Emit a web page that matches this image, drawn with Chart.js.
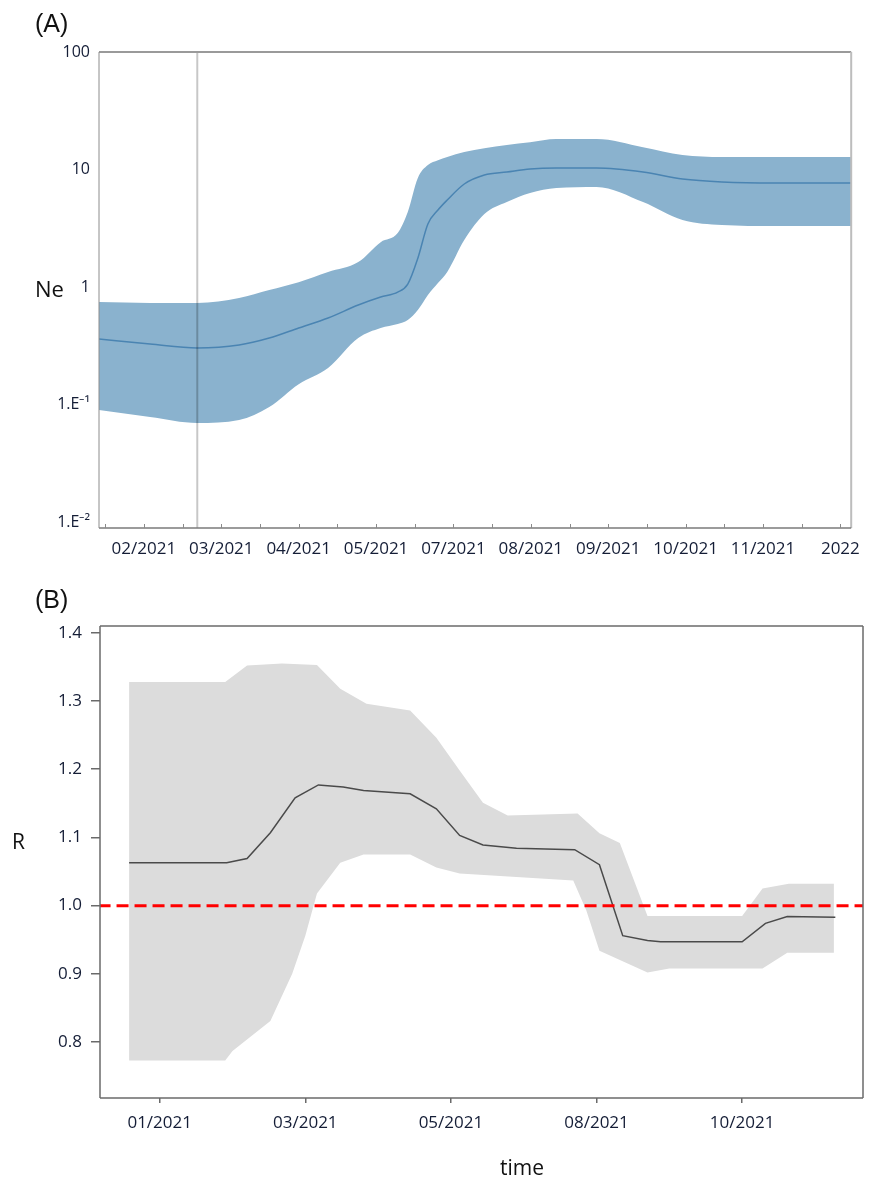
<!DOCTYPE html>
<html>
<head>
<meta charset="utf-8">
<script src="https://cdn.jsdelivr.net/npm/chart.js@4.4.1/dist/chart.umd.min.js"></script>
<style>
body { margin: 0; background: #fff; width: 871px; height: 1182px; position: relative; overflow: hidden; font-family: "Open Sans", sans-serif; }
canvas { position: absolute; left: 0; }
#chartA { top: 0; }
#chartB { top: 580px; }
.lbl { position: absolute; white-space: nowrap; line-height: 1; color: #111; }
.panel { font-family: "Liberation Sans", Arial, sans-serif; font-size: 25px; }
</style>
</head>
<body>
<canvas id="chartA" width="871" height="580"></canvas>
<canvas id="chartB" width="871" height="602"></canvas>

<div class="lbl panel" style="left:35px;top:11px;">(A)</div>
<div class="lbl" style="left:35px;top:277px;font-size:22px;">Ne</div>
<div class="lbl panel" style="left:35px;top:587px;">(B)</div>
<div class="lbl" style="left:12px;top:831px;font-size:21px;">R</div>
<div class="lbl" style="left:522px;top:1157px;font-size:21px;transform:translateX(-50%);">time</div>

<script>
// ---- panel A : Ne through time (log scale) ----
const neTickLabels = ['02/2021', '03/2021', '04/2021', '05/2021', '07/2021', '08/2021', '09/2021', '10/2021', '11/2021', '2022'];
const neTime   = [-0.58, 0.08, 0.69, 1.23, 1.62, 2.0, 2.38, 2.77, 3.06, 3.28, 3.41, 3.54, 3.67, 3.8, 3.92, 4.14, 4.4, 4.69, 4.99, 5.33, 5.85, 6.45, 6.96, 7.47, 8.15, 9.14];
const neMedian = [0.361, 0.327, 0.303, 0.321, 0.368, 0.448, 0.545, 0.703, 0.822, 0.906, 1.06, 1.76, 3.44, 4.52, 5.5, 7.53, 8.98, 9.52, 10.1, 10.3, 10.3, 9.52, 8.3, 7.83, 7.67, 7.67];
const neUpper  = [0.745, 0.731, 0.731, 0.806, 0.943, 1.1, 1.34, 1.63, 2.41, 2.88, 4.35, 8.47, 10.9, 12.0, 12.8, 14.1, 15.2, 16.2, 17.1, 18.2, 18.2, 15.5, 13.3, 12.8, 12.8, 12.8];
const neLower  = [0.0898, 0.0783, 0.0696, 0.0738, 0.0953, 0.149, 0.205, 0.368, 0.448, 0.484, 0.524, 0.637, 0.855, 1.08, 1.34, 2.51, 4.18, 5.29, 6.31, 6.96, 7.1, 5.29, 3.72, 3.37, 3.3, 3.3];
const neMarkerTime = 0.69;
const neYTicks  = [0.01, 0.1, 1, 10, 100];
const neYLabels = ['1.E⁻²', '1.E⁻¹', '1', '10', '100'];

// ---- panel B : R through time ----
const rTickLabels = ['01/2021', '03/2021', '05/2021', '08/2021', '10/2021'];
const rMedianTime = [-0.21, 0.46, 0.6, 0.76, 0.93, 1.09, 1.26, 1.4, 1.72, 1.9, 2.06, 2.22, 2.45, 2.85, 3.02, 3.18, 3.35, 3.44, 4.0, 4.16, 4.31, 4.64];
const rMedian     = [1.063, 1.063, 1.069, 1.107, 1.158, 1.177, 1.174, 1.169, 1.164, 1.142, 1.103, 1.089, 1.084, 1.082, 1.06, 0.956, 0.949, 0.947, 0.947, 0.974, 0.984, 0.983];
const rUpperTime  = [-0.21, 0.45, 0.6, 0.84, 1.08, 1.24, 1.42, 1.72, 1.9, 2.06, 2.22, 2.39, 2.87, 3.02, 3.16, 3.35, 4.0, 4.14, 4.32, 4.63];
const rUpper      = [1.328, 1.328, 1.352, 1.355, 1.353, 1.318, 1.296, 1.286, 1.246, 1.198, 1.151, 1.132, 1.135, 1.106, 1.092, 0.985, 0.985, 1.025, 1.032, 1.032];
const rLowerTime  = [-0.21, 0.45, 0.5, 0.76, 0.91, 1.0, 1.08, 1.24, 1.4, 1.72, 1.9, 2.06, 2.84, 2.93, 3.02, 3.35, 3.5, 4.14, 4.31, 4.63];
const rLower      = [0.773, 0.773, 0.787, 0.831, 0.9, 0.956, 1.018, 1.063, 1.075, 1.075, 1.056, 1.047, 1.037, 0.993, 0.934, 0.902, 0.908, 0.908, 0.931, 0.931];
const rThreshold = 1.0;
const rYTicks = [0.8, 0.9, 1.0, 1.1, 1.2, 1.3, 1.4];

const tickColor = '#141d36';

function pts(xs, ys) {
  return xs.map((x, i) => ({ x: x, y: ys[i] }));
}

// box round the plot area, one colour per side, plus optional small inside ticks on x
const framePlugin = {
  id: 'frame',
  afterDatasetsDraw(chart, args, opts) {
    const a = chart.chartArea;
    const c = chart.ctx;
    const sides = [
      [a.left, a.top, a.right, a.top, opts.top],
      [a.right, a.top, a.right, a.bottom, opts.right],
      [a.left, a.bottom, a.right, a.bottom, opts.bottom],
      [a.left, a.top, a.left, a.bottom, opts.left]
    ];
    c.save();
    sides.forEach(s => {
      c.strokeStyle = s[4][0];
      c.lineWidth = s[4][1];
      c.beginPath();
      c.moveTo(s[0], s[1]);
      c.lineTo(s[2], s[3]);
      c.stroke();
    });
    if (opts.minorStep) {
      const xs = chart.scales.x;
      c.strokeStyle = '#8a8a8a';
      c.lineWidth = 1;
      c.beginPath();
      for (let v = Math.ceil(xs.min / opts.minorStep) * opts.minorStep; v <= xs.max; v += opts.minorStep) {
        const px = Math.round(xs.getPixelForValue(v)) + 0.5;
        c.moveTo(px, a.bottom);
        c.lineTo(px, a.bottom - 4);
      }
      c.stroke();
    }
    c.restore();
  }
};

// panel A
new Chart(document.getElementById('chartA'), {
  type: 'line',
  data: {
    datasets: [
      { data: pts(neTime, neLower), borderWidth: 0, pointRadius: 0, fill: false, cubicInterpolationMode: 'monotone', order: 4 },
      { data: pts(neTime, neUpper), borderWidth: 0, pointRadius: 0, fill: 0, backgroundColor: '#8ab2ce', cubicInterpolationMode: 'monotone', order: 3 },
      { data: pts(neTime, neMedian), borderColor: '#4a84b2', borderWidth: 1.5, pointRadius: 0, fill: false, cubicInterpolationMode: 'monotone', order: 2 },
      { data: [{ x: neMarkerTime, y: 0.0089 }, { x: neMarkerTime, y: 100 }], borderColor: 'rgba(0,0,0,0.22)', borderWidth: 2, pointRadius: 0, fill: false, order: 1 }
    ]
  },
  options: {
    responsive: false,
    animation: false,
    layout: { padding: { top: 52, right: 14, bottom: 0, left: 0 } },
    plugins: {
      legend: { display: false },
      tooltip: { enabled: false },
      frame: { top: ['#9a9a9a', 2], right: ['#bdbdbd', 2], bottom: ['#7a7a7a', 1.5], left: ['#8c8c8c', 1], minorStep: 0.5 }
    },
    scales: {
      x: {
        type: 'linear',
        min: -0.58,
        max: 9.14,
        grid: { display: false, drawTicks: false },
        border: { display: false },
        afterBuildTicks: s => { s.ticks = neTickLabels.map((l, i) => ({ value: i })); },
        afterFit: s => { s.height = 52; },
        ticks: {
          padding: 11,
          maxRotation: 0,
          autoSkip: false,
          color: tickColor,
          font: { family: 'Open Sans', size: 17 },
          callback: (v, i) => neTickLabels[i]
        }
      },
      y: {
        type: 'logarithmic',
        min: 0.0089,
        max: 100,
        grid: { display: false, drawTicks: false },
        border: { display: false },
        afterBuildTicks: s => { s.ticks = neYTicks.map(v => ({ value: v })); },
        afterFit: s => { s.width = 99; },
        ticks: {
          padding: 9,
          color: tickColor,
          font: { family: 'Open Sans', size: 16 },
          callback: (v, i) => neYLabels[i]
        }
      }
    }
  },
  plugins: [framePlugin]
});

// panel B
const bandB = pts(rUpperTime, rUpper).concat(pts(rLowerTime, rLower).reverse());
new Chart(document.getElementById('chartB'), {
  type: 'line',
  data: {
    datasets: [
      { data: [{ x: -0.42, y: rThreshold }, { x: 4.84, y: rThreshold }], borderColor: '#ff0000', borderWidth: 3, borderDash: [12, 6], pointRadius: 0, fill: false, order: 1 },
      { data: pts(rMedianTime, rMedian), borderColor: '#4a4a4a', borderWidth: 1.5, pointRadius: 0, fill: false, tension: 0, order: 2 },
      { data: bandB, borderWidth: 0, pointRadius: 0, fill: 'shape', backgroundColor: '#dcdcdc', tension: 0, order: 3 }
    ]
  },
  options: {
    responsive: false,
    animation: false,
    layout: { padding: { top: 46, right: 8, bottom: 0, left: 0 } },
    plugins: {
      legend: { display: false },
      tooltip: { enabled: false },
      frame: { top: ['#6a6a6a', 1.5], right: ['#6a6a6a', 1.5], bottom: ['#6a6a6a', 1.5], left: ['#6a6a6a', 1.5] }
    },
    scales: {
      x: {
        type: 'linear',
        min: -0.41,
        max: 4.83,
        grid: { drawOnChartArea: false, drawTicks: true, tickLength: 5, color: '#6a6a6a', lineWidth: 1.5 },
        border: { display: false },
        afterBuildTicks: s => { s.ticks = rTickLabels.map((l, i) => ({ value: i })); },
        afterFit: s => { s.height = 84; },
        ticks: {
          padding: 10,
          maxRotation: 0,
          autoSkip: false,
          color: tickColor,
          font: { family: 'Open Sans', size: 17 },
          callback: (v, i) => rTickLabels[i]
        }
      },
      y: {
        type: 'linear',
        min: 0.718,
        max: 1.41,
        grid: { drawOnChartArea: false, drawTicks: true, tickLength: 9, color: '#6a6a6a', lineWidth: 1.5 },
        border: { display: false },
        afterBuildTicks: s => { s.ticks = rYTicks.map(v => ({ value: v })); },
        afterFit: s => { s.width = 100; },
        ticks: {
          padding: 9,
          color: tickColor,
          font: { family: 'Open Sans', size: 17 },
          callback: v => v.toFixed(1)
        }
      }
    }
  },
  plugins: [framePlugin]
});
</script>
</body>
</html>
